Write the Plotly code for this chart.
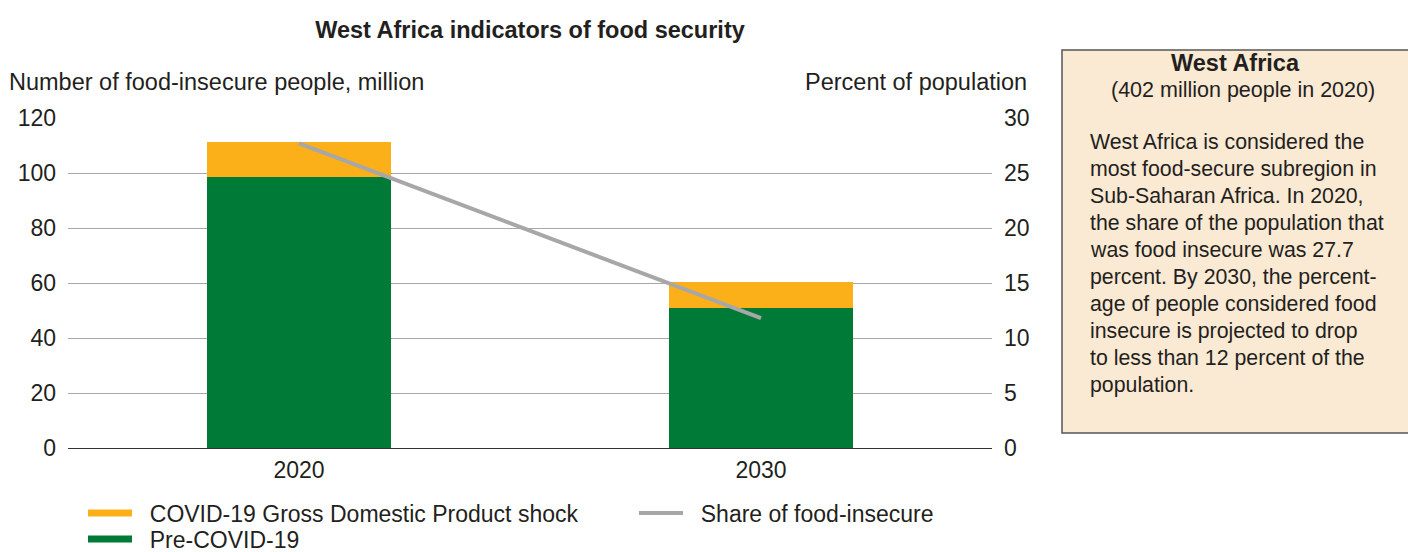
import plotly.graph_objects as go

years = ["2020", "2030"]
pre_covid = [98.4, 51.0]
covid_shock = [12.7, 9.4]
share_insecure = [27.7, 11.8]

left_ticks = [0, 20, 40, 60, 80, 100, 120]
right_ticks = [0, 5, 10, 15, 20, 25, 30]

box_title = "West Africa"
box_subtitle = "(402 million people in 2020)"
box_lines = [
    "West Africa is considered the",
    "most food-secure subregion in",
    "Sub-Saharan Africa. In 2020,",
    "the share of the population that",
    "was food insecure was 27.7",
    "percent. By 2030, the percent-",
    "age of people considered food",
    "insecure is projected to drop",
    "to less than 12 percent of the",
    "population.",
]

ORANGE = "#FBB01A"
GREEN = "#007A37"
GRAY_LINE = "#A7A7A7"
TXT = "#231F20"
FONT = "Liberation Sans, Arial, sans-serif"
PAD = "\u00a0\u00a0"

W, H = 1408, 552
L, R, T, B = 68, 992, 118, 448  # plot area in px


def px_x(x):
    return (x - L) / (R - L)


def px_y(y):
    return (B - y) / (B - T)


fig = go.Figure()
fig.add_trace(go.Bar(x=[0, 1], y=pre_covid, marker=dict(color=GREEN, line=dict(width=0)),
                     width=0.4, showlegend=False, name="Pre-COVID-19"))
fig.add_trace(go.Bar(x=[0, 1], y=covid_shock, marker=dict(color=ORANGE, line=dict(width=0)),
                     width=0.4, showlegend=False, name="COVID-19 Gross Domestic Product shock"))
fig.add_trace(go.Scatter(x=[0, 1], y=share_insecure, mode="lines", yaxis="y2",
                         line=dict(color=GRAY_LINE, width=4), showlegend=False,
                         name="Share of food-insecure"))

# legend entries
fig.add_trace(go.Scatter(x=[None], y=[None], mode="lines", line=dict(color=ORANGE, width=7),
                         name=PAD + "COVID-19 Gross Domestic Product shock", legend="legend"))
fig.add_trace(go.Scatter(x=[None], y=[None], mode="lines", line=dict(color=GRAY_LINE, width=4),
                         name=PAD + "Share of food-insecure", legend="legend2"))
fig.add_trace(go.Scatter(x=[None], y=[None], mode="lines", line=dict(color=GREEN, width=7),
                         name=PAD + "Pre-COVID-19", legend="legend3"))


def legend_at(x_px, y_px):
    return dict(orientation="h", x=x_px / W, y=1 - y_px / H, xanchor="left", yanchor="middle",
                xref="container", yref="container", font=dict(size=23, color=TXT),
                bgcolor="rgba(0,0,0,0)", itemwidth=44)


fig.update_layout(
    width=W, height=H,
    barmode="stack",
    paper_bgcolor="white", plot_bgcolor="white",
    margin=dict(l=L, r=W - R, t=T, b=H - B, pad=0, autoexpand=False),
    font=dict(family=FONT, size=23, color=TXT),
    title=dict(text="<b>West Africa indicators of food security</b>", x=0.5, xref="paper",
               xanchor="center", y=1 - 30 / H, yanchor="middle",
               font=dict(size=23.5, color=TXT, family=FONT)),
    xaxis=dict(range=[-0.5, 1.5], tickvals=[0, 1], ticktext=years, showgrid=False,
               zeroline=False, showline=False, ticks="", tickfont=dict(size=23), ticklabelstandoff=6),
    yaxis=dict(range=[0, 120], tickvals=left_ticks, showgrid=True, gridcolor="#A8A8A8", gridwidth=1,
               zeroline=True, zerolinecolor="#333333", zerolinewidth=1.2, showline=False,
               ticks="", tickfont=dict(size=23), ticklabelstandoff=11),
    yaxis2=dict(range=[0, 30], tickvals=right_ticks, overlaying="y", side="right", showgrid=False,
                zeroline=False, showline=False, ticks="", tickfont=dict(size=23), ticklabelstandoff=11),
    legend=legend_at(83, 513),
    legend2=legend_at(634, 513),
    legend3=legend_at(83, 539),
)

annotations = [
    dict(text="Number of food-insecure people, million", x=px_x(7), y=px_y(82), xanchor="left",
         yanchor="middle", font=dict(size=23.5)),
    dict(text="Percent of population", x=px_x(1029), y=px_y(82), xanchor="right",
         yanchor="middle", font=dict(size=23.5)),
    dict(text="<b>" + box_title + "</b>", x=px_x(1235), y=px_y(63), xanchor="center",
         yanchor="middle", font=dict(size=23.5)),
    dict(text=box_subtitle, x=px_x(1243), y=px_y(90), xanchor="center", yanchor="middle",
         font=dict(size=21.5)),
]
for i, line in enumerate(box_lines):
    annotations.append(dict(text=line, x=px_x(1088), y=px_y(141.5 + 27.1 * i), xanchor="left",
                            yanchor="middle", font=dict(size=21.3)))
for a in annotations:
    a.update(xref="paper", yref="paper", showarrow=False)
fig.update_layout(annotations=annotations)

fig.add_shape(type="rect", xref="paper", yref="paper", x0=px_x(1062), x1=px_x(1412),
              y0=px_y(433), y1=px_y(50), fillcolor="#FAE9D3", line=dict(color="#555555", width=1.5),
              layer="below")

fig.write_html("out.html")
